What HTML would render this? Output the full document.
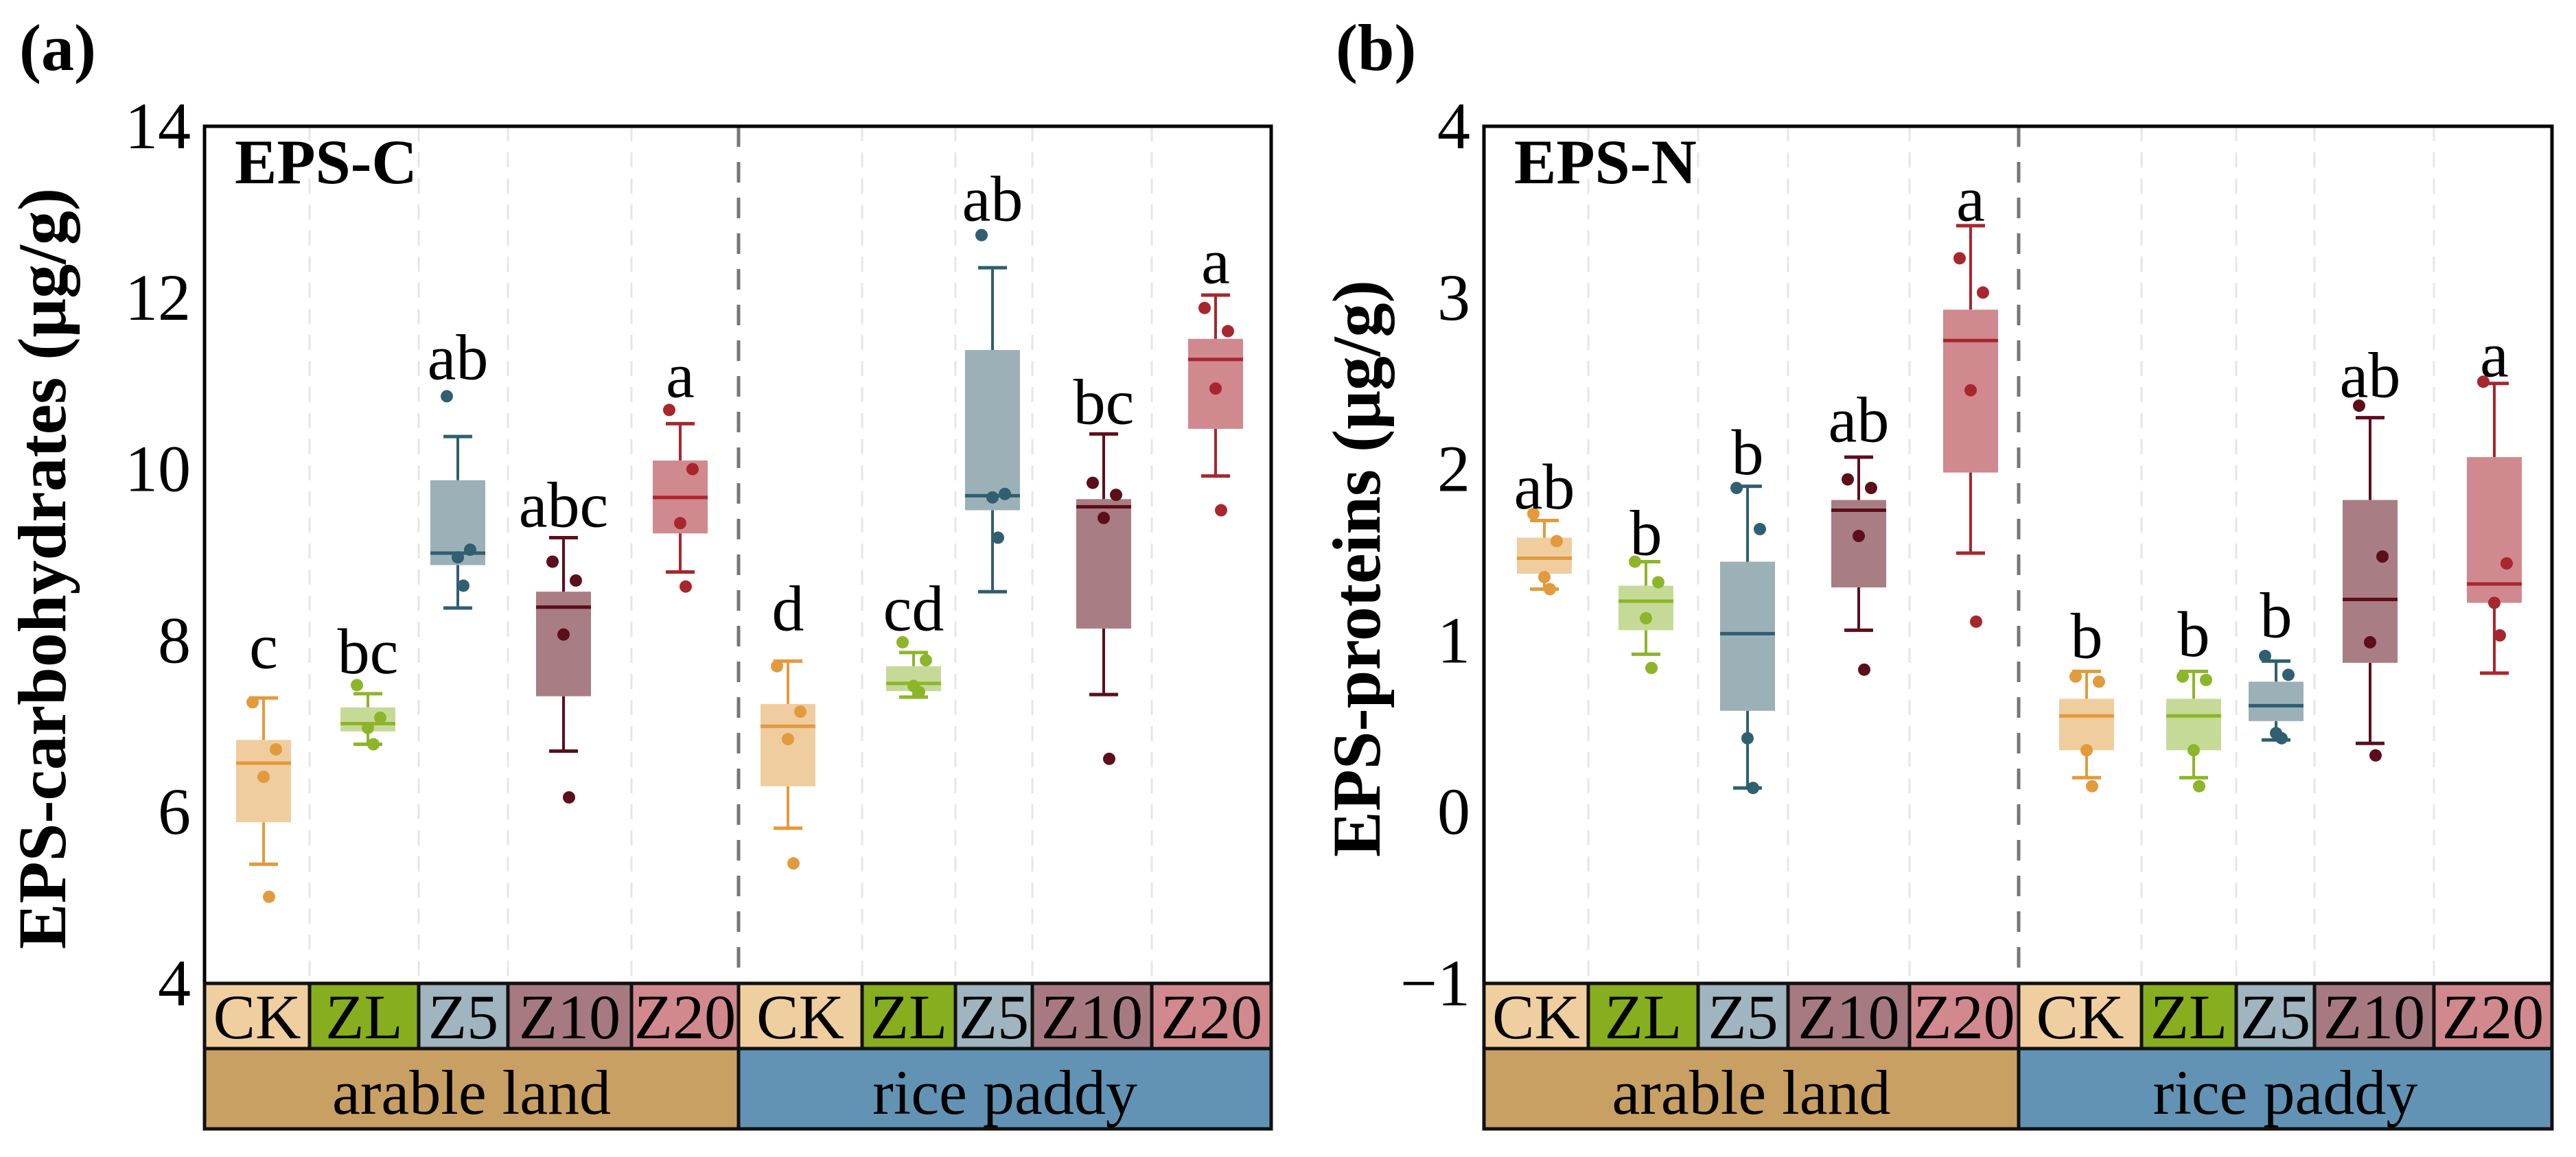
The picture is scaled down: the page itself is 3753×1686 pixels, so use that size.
<!DOCTYPE html>
<html><head><meta charset="utf-8"><style>
html,body{margin:0;padding:0;background:#fff;}
svg{display:block;}
svg text{font-family:"Liberation Serif","Times New Roman",serif;}
</style></head><body>
<svg id="chart" width="3753" height="1686" viewBox="0 0 3753 1686" xmlns="http://www.w3.org/2000/svg" font-family="Liberation Serif, serif"></svg>
<script>
const categories = ["CK","ZL","Z5","Z10","Z20","CK","ZL","Z5","Z10","Z20"];
const groups = ["arable land","rice paddy"];
// Panel A: EPS-carbohydrates [whiskerLow, q1, median, q3, whiskerHigh]
const aLow  = [5.39,6.79,8.38,6.71,8.80, 5.81,7.34,8.57,7.37,9.92];
const aQ1   = [5.88,6.94,8.88,7.35,9.25, 6.30,7.41,9.52,8.14,10.47];
const aMed  = [6.57,7.03,9.02,8.39,9.67, 7.00,7.50,9.69,9.56,11.28];
const aQ3   = [6.84,7.22,9.87,8.57,10.10, 7.26,7.70,11.39,9.65,11.52];
const aHigh = [7.33,7.38,10.38,9.20,10.53, 7.76,7.86,12.35,10.41,12.03];
const aPoints = [[7.28,6.73,6.41,5.01],[7.48,7.10,6.98,6.79],[10.85,9.06,8.97,8.64],[8.92,8.70,8.07,6.17],[10.69,10.00,9.37,8.63],
                 [7.70,7.17,6.85,5.40],[7.98,7.77,7.47,7.40],[12.73,9.71,9.67,9.20],[9.84,9.70,9.43,6.62],[11.88,11.61,10.94,9.52]];
const aLetters = ["c","bc","ab","abc","a","d","cd","ab","bc","a"];
const aLetterVal = [7.68,7.62,11.05,9.33,10.84,8.12,8.12,12.9,10.53,12.17];
const aTicks = [4,6,8,10,12,14];
// Panel B: EPS-proteins
const bLow  = [1.30,0.92,0.14,1.06,1.51, 0.20,0.20,0.42,0.40,0.81];
const bQ1   = [1.39,1.06,0.59,1.31,1.98, 0.36,0.36,0.53,0.87,1.22];
const bMed  = [1.48,1.23,1.04,1.76,2.75, 0.56,0.56,0.62,1.24,1.33];
const bQ3   = [1.60,1.32,1.46,1.82,2.93, 0.66,0.66,0.76,1.82,2.07];
const bHigh = [1.70,1.46,1.90,2.07,3.42, 0.82,0.82,0.88,2.30,2.50];
const bPoints = [[1.74,1.58,1.37,1.30],[1.46,1.34,1.13,0.84],[1.89,1.65,0.43,0.14],[1.94,1.89,1.61,0.83],[3.23,3.03,2.46,1.11],
                 [0.79,0.76,0.36,0.15],[0.79,0.77,0.36,0.15],[0.91,0.80,0.46,0.43],[2.37,1.49,0.99,0.33],[2.51,1.45,1.22,1.03]];
const bLetters = ["ab","b","b","ab","a","b","b","b","ab","a"];
const bLetterVal = [1.77,1.50,1.97,2.16,3.45,0.90,0.91,1.02,2.42,2.54];
const bTicks = [-1,0,1,2,3,4];

const lineCol = ["#e39a3c","#8db52a","#2f5f70","#5c0e1a","#a8262d"];
const fillCol = ["#efcd9f","#c6da98","#9cb0b7","#a87d83","#d0898e"];
const stripCol = ["#efcf9f","#86ae1e","#a0b5bf","#a77a81","#d2898e"];
const groupCol = ["#c9a063","#6293b5"];
const NS="http://www.w3.org/2000/svg";
const FONT='"Liberation Serif", serif';
const svg=document.getElementById('chart');
function el(tag,attrs,parent){const e=document.createElementNS(NS,tag);for(const k in attrs)e.setAttribute(k,attrs[k]);if(tag==='text')e.style.fontFamily=FONT;(parent||svg).appendChild(e);return e;}

function panel(cfg){
  const g=el('g',{});
  
  
  const L=cfg.left,R=cfg.right,T=184,B=1433,S1=1528,S2=1645;
  const y=v=>B-(v-cfg.min)/(cfg.max-cfg.min)*(B-T);
  cfg.bounds.forEach((bx,i)=>{
    if(i===0||i===cfg.bounds.length-1)return;
    const ln=el('line',{x1:bx,x2:bx,y1:T,y2:B,stroke:i===5?'#777':'#e6e6e6','stroke-width':i===5?5:3,'stroke-dasharray':i===5?'30 22':'22 16'},g);
    
    
  });
  for(let i=0;i<10;i++){
    const c=cfg.centers[i],k=i%5,lc=lineCol[k],fc=fillCol[k],hw=40,cw=21;
    const bg=el('g',{},g);
    
    
    el('line',{x1:c,x2:c,y1:y(cfg.high[i]),y2:y(cfg.q3[i]),stroke:lc,'stroke-width':4},bg);
    el('line',{x1:c,x2:c,y1:y(cfg.q1[i]),y2:y(cfg.low[i]),stroke:lc,'stroke-width':4},bg);
    el('line',{x1:c-cw,x2:c+cw,y1:y(cfg.high[i]),y2:y(cfg.high[i]),stroke:lc,'stroke-width':5},bg);
    el('line',{x1:c-cw,x2:c+cw,y1:y(cfg.low[i]),y2:y(cfg.low[i]),stroke:lc,'stroke-width':5},bg);
    el('rect',{x:c-hw,y:y(cfg.q3[i]),width:2*hw,height:y(cfg.q1[i])-y(cfg.q3[i]),fill:fc},bg);
    el('line',{x1:c-hw,x2:c+hw,y1:y(cfg.med[i]),y2:y(cfg.med[i]),stroke:lc,'stroke-width':5},bg);
    const jit=[-16,18,0,8];
    cfg.points[i].forEach((p,j)=>{
      const d=el('circle',{cx:c+jit[j],cy:y(p),r:9,fill:lc},bg);
      
      
    });
    const t=el('text',{x:c,y:y(cfg.letterVal[i]),'font-size':94,'text-anchor':'middle',fill:'#000'},g);
    t.textContent=cfg.letters[i];
    
    
  }
  const fr=el('rect',{x:L,y:T,width:R-L,height:S2-T,fill:'none',stroke:'#000','stroke-width':5},g);
  
  
  for(let i=0;i<10;i++){
    const x0=cfg.bounds[i],x1=cfg.bounds[i+1];
    const r=el('rect',{x:x0,y:B,width:x1-x0,height:S1-B,fill:stripCol[i%5],stroke:'#111','stroke-width':5},g);
    
    
    const t=el('text',{x:(x0+x1)/2,y:1513,'font-size':92,'text-anchor':'middle',fill:'#000'},g);
    t.textContent=categories[i];
    
    
  }
  for(let j=0;j<2;j++){
    const x0=cfg.bounds[j*5],x1=cfg.bounds[j*5+5];
    const r=el('rect',{x:x0,y:S1,width:x1-x0,height:S2-S1,fill:groupCol[j],stroke:'#111','stroke-width':5},g);
    
    
    const t=el('text',{x:(x0+x1)/2,y:1623,'font-size':92,'text-anchor':'middle',fill:'#000'},g);
    t.textContent=groups[j];
    
    
  }
  cfg.ticks.forEach(v=>{
    const t=el('text',{x:L-20,y:y(v)+32,'font-size':96,'text-anchor':'end',fill:'#000'},g);
    t.textContent=v<0?'\u2212'+Math.abs(v):String(v);
    
    
  });
  const yt=el('text',{x:0,y:0,'font-size':100,'font-weight':'bold','text-anchor':'middle',transform:`translate(${cfg.titleX},${(T+B)/2+20}) rotate(-90)`,fill:'#000'},g);
  yt.textContent=cfg.yTitle;
  
  
  const it=el('text',{x:L+44,y:267,'font-size':92,'font-weight':'bold',fill:'#000'},g);
  it.textContent=cfg.inner;
  
  
  const pl=el('text',{x:cfg.labelX,y:102,'font-size':96,'font-weight':'bold',fill:'#000'},g);
  pl.textContent=cfg.label;
  
  
}

panel({name:'panel-a-eps-c',left:298,right:1852,min:4,max:14,ticks:aTicks,
  bounds:[298,451,610,740,920,1076,1256,1392,1504,1678,1852],
  centers:[384,536,667,821,991,1148,1331,1446,1608,1771],
  low:aLow,q1:aQ1,med:aMed,q3:aQ3,high:aHigh,points:aPoints,letters:aLetters,letterVal:aLetterVal,
  yTitle:'EPS-carbohydrates (\u03bcg/g)',titleX:95,inner:'EPS-C',label:'(a)',labelX:28});
panel({name:'panel-b-eps-n',left:2162,right:3718,min:-1,max:4,ticks:bTicks,
  bounds:[2162,2314,2474,2605,2782,2941,3120,3258,3372,3546,3718],
  centers:[2250,2398,2546,2708,2871,3040,3196,3316,3453,3634],
  low:bLow,q1:bQ1,med:bMed,q3:bQ3,high:bHigh,points:bPoints,letters:bLetters,letterVal:bLetterVal,
  yTitle:'EPS-proteins (\u03bcg/g)',titleX:2010,inner:'EPS-N',label:'(b)',labelX:1946});
</script>
</body></html>
